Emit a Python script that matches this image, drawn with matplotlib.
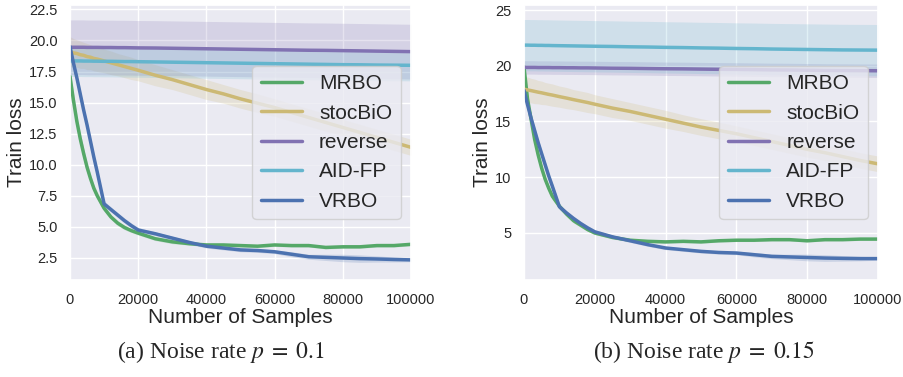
import numpy as np
import matplotlib
matplotlib.use('Agg')
import matplotlib.pyplot as plt
import seaborn as sns

sns.set_theme(style='darkgrid')
plt.rcParams['font.family'] = ['Liberation Sans', 'DejaVu Sans']
plt.rcParams['mathtext.fontset'] = 'stix'

# shared sample grid
samples = [0, 1000, 2000, 3000, 4000, 5000, 6000, 7000, 8000, 10000, 12000, 14000, 16000,
           18000, 20000, 25000, 30000, 35000, 40000, 45000, 50000, 55000, 60000, 65000,
           70000, 75000, 80000, 85000, 90000, 95000, 100000]

methods = ['MRBO', 'stocBiO', 'reverse', 'AID-FP', 'VRBO']
colors = ['#55A868', '#CCB974', '#8172B2', '#64B5CD', '#4C72B0']

# (a) noise rate 0.1 -- mean curves
mrbo_a = [17.1, 15.2, 13.5, 12.1, 10.9, 9.8, 8.9, 8.1, 7.5, 6.5, 5.8, 5.3, 4.95, 4.7, 4.5,
          4.05, 3.8, 3.65, 3.55, 3.55, 3.5, 3.45, 3.55, 3.5, 3.5, 3.35, 3.4, 3.4, 3.5, 3.5, 3.6]
stocbio_a = [19.1, 19.0, 18.95, 18.85, 18.8, 18.7, 18.65, 18.55, 18.5, 18.35, 18.2, 18.05, 17.9,
             17.75, 17.6, 17.2, 16.85, 16.45, 16.05, 15.7, 15.3, 14.95, 14.6, 14.2, 13.8, 13.4,
             13.0, 12.6, 12.2, 11.8, 11.4]
reverse_a = [19.45, 19.45, 19.45, 19.45, 19.45, 19.44, 19.44, 19.44, 19.44, 19.43, 19.43, 19.42,
             19.42, 19.41, 19.4, 19.39, 19.37, 19.35, 19.33, 19.31, 19.29, 19.27, 19.25, 19.23,
             19.21, 19.2, 19.18, 19.16, 19.14, 19.12, 19.1]
aidfp_a = [18.35, 18.35, 18.35, 18.35, 18.34, 18.34, 18.34, 18.33, 18.33, 18.32, 18.32, 18.31,
           18.3, 18.3, 18.29, 18.27, 18.25, 18.23, 18.21, 18.19, 18.17, 18.15, 18.13, 18.11,
           18.09, 18.07, 18.05, 18.04, 18.02, 18.01, 18.0]
vrbo_a = [19.5, 18.2, 17.0, 15.7, 14.4, 13.2, 11.9, 10.6, 9.4, 6.85, 6.4, 5.95, 5.5, 5.1, 4.75,
          4.45, 4.1, 3.75, 3.45, 3.3, 3.15, 3.1, 3.0, 2.8, 2.6, 2.55, 2.5, 2.45, 2.42, 2.38, 2.35]

# (a) band half widths
mrbo_a_sd = [0.6, 0.6, 0.55, 0.5, 0.45, 0.4, 0.35, 0.3, 0.3, 0.25, 0.2, 0.2, 0.18, 0.15, 0.15,
             0.15, 0.15, 0.12, 0.12, 0.12, 0.12, 0.12, 0.12, 0.12, 0.12, 0.12, 0.12, 0.12, 0.12,
             0.12, 0.12]
stocbio_a_sd = [1.2, 1.15, 1.1, 1.1, 1.05, 1.05, 1.0, 1.0, 1.0, 0.95, 0.95, 0.9, 0.9, 0.9, 0.85,
                0.85, 0.8, 0.8, 0.8, 0.75, 0.75, 0.75, 0.7, 0.7, 0.7, 0.7, 0.65, 0.65, 0.65,
                0.65, 0.65]
reverse_a_sd = [2.2] * 31
aidfp_a_sd = [1.25] * 31
vrbo_a_sd = [0.35, 0.35, 0.35, 0.35, 0.3, 0.3, 0.3, 0.3, 0.3, 0.25, 0.2, 0.2, 0.2, 0.2, 0.2,
             0.15, 0.15, 0.15, 0.15, 0.15, 0.15, 0.15, 0.15, 0.2, 0.2, 0.25, 0.3, 0.3, 0.25,
             0.2, 0.15]

# (b) noise rate 0.15 -- mean curves
mrbo_b = [19.9, 17.0, 15.2, 13.4, 12.0, 10.8, 9.8, 9.0, 8.3, 7.4, 6.7, 6.1, 5.7, 5.3, 5.0,
          4.6, 4.35, 4.25, 4.2, 4.25, 4.2, 4.3, 4.35, 4.35, 4.4, 4.4, 4.3, 4.4, 4.4, 4.45, 4.45]
stocbio_b = [17.9, 17.83, 17.77, 17.7, 17.63, 17.57, 17.5, 17.43, 17.37, 17.23, 17.1, 16.96,
             16.83, 16.7, 16.55, 16.2, 15.9, 15.55, 15.2, 14.85, 14.5, 14.2, 13.9, 13.55, 13.2,
             12.85, 12.5, 12.2, 11.85, 11.5, 11.2]
reverse_b = [19.85, 19.85, 19.85, 19.85, 19.84, 19.84, 19.84, 19.84, 19.83, 19.83, 19.82, 19.82,
             19.81, 19.81, 19.8, 19.78, 19.77, 19.75, 19.73, 19.72, 19.7, 19.68, 19.67, 19.65,
             19.63, 19.62, 19.6, 19.58, 19.57, 19.56, 19.55]
aidfp_b = [21.85, 21.85, 21.84, 21.84, 21.83, 21.83, 21.82, 21.82, 21.81, 21.8, 21.79, 21.78,
           21.77, 21.76, 21.75, 21.73, 21.7, 21.68, 21.65, 21.63, 21.6, 21.58, 21.55, 21.53,
           21.5, 21.48, 21.46, 21.44, 21.42, 21.41, 21.4]
vrbo_b = [17.8, 16.5, 15.3, 14.2, 13.1, 12.1, 11.1, 10.1, 9.2, 7.35, 6.8, 6.3, 5.85, 5.45, 5.1,
          4.65, 4.3, 3.95, 3.65, 3.5, 3.35, 3.25, 3.2, 3.05, 2.9, 2.85, 2.8, 2.75, 2.72, 2.7, 2.7]

# (b) band half widths
mrbo_b_sd = [0.6, 0.6, 0.55, 0.5, 0.45, 0.4, 0.35, 0.3, 0.3, 0.25, 0.2, 0.2, 0.18, 0.15, 0.15,
             0.15, 0.12, 0.12, 0.12, 0.12, 0.12, 0.12, 0.12, 0.12, 0.12, 0.12, 0.12, 0.12, 0.12,
             0.12, 0.12]
stocbio_b_sd = [1.15, 1.15, 1.1, 1.1, 1.05, 1.05, 1.0, 1.0, 1.0, 0.95, 0.95, 0.9, 0.9, 0.9, 0.85,
                0.85, 0.8, 0.8, 0.8, 0.75, 0.75, 0.75, 0.7, 0.7, 0.7, 0.7, 0.7, 0.7, 0.7, 0.7,
                0.7]
reverse_b_sd = [0.6] * 31
aidfp_b_sd = [2.3] * 31
vrbo_b_sd = [0.4, 0.4, 0.4, 0.35, 0.35, 0.3, 0.3, 0.3, 0.3, 0.25, 0.2, 0.2, 0.2, 0.2, 0.2,
             0.15, 0.15, 0.15, 0.15, 0.15, 0.15, 0.15, 0.15, 0.2, 0.2, 0.25, 0.3, 0.3, 0.25,
             0.2, 0.15]

panels = [
    dict(means=[mrbo_a, stocbio_a, reverse_a, aidfp_a, vrbo_a],
         sds=[mrbo_a_sd, stocbio_a_sd, reverse_a_sd, aidfp_a_sd, vrbo_a_sd],
         ylim=(0.73, 22.85), yticks=[2.5, 5, 7.5, 10, 12.5, 15, 17.5, 20, 22.5],
         ytl=['2.5', '5.0', '7.5', '10.0', '12.5', '15.0', '17.5', '20.0', '22.5'],
         rect=[70 / 904, 97 / 377, 341 / 904, 275 / 377],
         caption=r'(a) Noise rate $p\;=\;0.1$', cap_x=221 / 904),
    dict(means=[mrbo_b, stocbio_b, reverse_b, aidfp_b, vrbo_b],
         sds=[mrbo_b_sd, stocbio_b_sd, reverse_b_sd, aidfp_b_sd, vrbo_b_sd],
         ylim=(0.78, 25.45), yticks=[5, 10, 15, 20, 25],
         ytl=['5', '10', '15', '20', '25'],
         rect=[524 / 904, 97 / 377, 354 / 904, 275 / 377],
         caption=r'(b) Noise rate $p\;=\;0.15$', cap_x=704 / 904),
]

fig = plt.figure(figsize=(9.04, 3.77), dpi=100)
x = np.array(samples)

for p in panels:
    ax = fig.add_axes(p['rect'])
    for name, c, m, s in zip(methods, colors, p['means'], p['sds']):
        m = np.array(m)
        s = np.array(s)
        ax.fill_between(x, m - s, m + s, color=c, alpha=0.2, linewidth=0)
        ax.plot(x, m, color=c, lw=2.5, label=name)
    ax.set_xlim(0, 100000)
    ax.set_ylim(*p['ylim'])
    ax.set_xticks([0, 20000, 40000, 60000, 80000, 100000])
    ax.set_yticks(p['yticks'])
    ax.set_yticklabels(p['ytl'])
    ax.tick_params(labelsize=10.5, pad=3)
    ax.set_xlabel('Number of Samples', fontsize=15, labelpad=1)
    ax.set_ylabel('Train loss', fontsize=15, labelpad=2)
    ax.legend(loc='center right', fontsize=15, labelspacing=0.5, handlelength=2.0)
    fig.text(p['cap_x'], 1 - 352 / 377, p['caption'], ha='center', va='center',
             fontsize=17, family=['Liberation Serif', 'DejaVu Serif'])

fig.savefig('out.png', dpi=100)
